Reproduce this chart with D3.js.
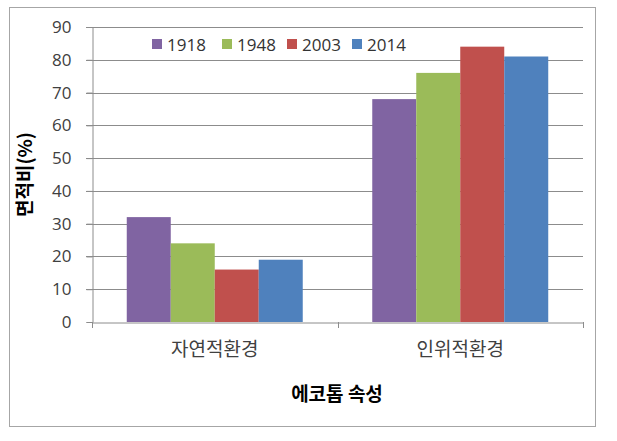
<!DOCTYPE html>
<html><head><meta charset="utf-8">
<script src="https://cdn.jsdelivr.net/npm/d3@7"></script>
<style>body{margin:0;background:#fff}svg text{font-family:"Noto Sans CJK KR","Noto Sans",sans-serif}</style>
</head><body><svg id="c" width="617" height="441"></svg>
<script>
const categories = ["자연적환경", "인위적환경"];
const seriesNames = ["1918", "1948", "2003", "2014"];
const v1918 = [32, 68];
const v1948 = [24, 76];
const v2003 = [16, 84];
const v2014 = [19, 81];
const yTicks = [0, 10, 20, 30, 40, 50, 60, 70, 80, 90];
const colors = ["#8064A2", "#9BBB59", "#C0504D", "#4F81BD"];
const seriesValues = [v1918, v1948, v2003, v2014];

const svg = d3.select("#c");
svg.append("rect").attr("x", 9.5).attr("y", 7.5).attr("width", 586).attr("height", 419)
  .attr("fill", "#fff").attr("stroke", "#a6a6a6");

const L = 92, R = 583, T = 27, B = 322;
const x0 = d3.scaleBand().domain(categories).range([L, R]).paddingInner(0).paddingOuter(0);
const x1 = d3.scaleBand().domain(seriesNames).range([0, x0.bandwidth()]).paddingOuter(0.79).paddingInner(0);
const y = d3.scaleLinear().domain([0, 90]).range([B, T]);

// gridlines
svg.append("g").selectAll("line").data(yTicks.slice(1)).join("line")
  .attr("x1", L - 6).attr("x2", R).attr("y1", d => Math.round(y(d)) + 0.5).attr("y2", d => Math.round(y(d)) + 0.5)
  .attr("stroke", "#8c8c8c").attr("stroke-width", 1);

// bars
const data = [];
categories.forEach((c, i) => seriesNames.forEach((s, j) => data.push({c, s, v: seriesValues[j][i], j})));
svg.append("g").selectAll("rect").data(data).join("rect")
  .attr("x", d => x0(d.c) + x1(d.s)).attr("width", x1.bandwidth())
  .attr("y", d => y(d.v)).attr("height", d => y(0) - y(d.v))
  .attr("fill", d => colors[d.j]);

// axes
const yAxis = d3.axisLeft(y).tickValues(yTicks).tickSize(6).tickPadding(15);
const gy = svg.append("g").attr("transform", `translate(${L + 0.5},0)`).call(yAxis);
gy.select(".domain").attr("stroke", "#8c8c8c");
gy.selectAll(".tick line").attr("stroke", "#8c8c8c");
gy.selectAll(".tick text").attr("font-size", 17).attr("fill", "#404040")
  .style("font-family", "'Open Sans','Noto Sans',sans-serif");

const xAxis = d3.axisBottom(x0).tickSize(0).tickPadding(20);
const gx = svg.append("g").attr("transform", `translate(0,${B + 0.5})`).call(xAxis);
gx.select(".domain").attr("stroke", "#8c8c8c");
gx.selectAll(".tick text").attr("font-size", 19).attr("fill", "#404040");
// category boundary ticks
svg.append("g").selectAll("line").data([L, x0(categories[1]), R]).join("line")
  .attr("x1", d => Math.round(d) + 0.5).attr("x2", d => Math.round(d) + 0.5)
  .attr("y1", B).attr("y2", B + 6).attr("stroke", "#8c8c8c");

// axis titles
svg.append("text").attr("x", 337).attr("y", 401).attr("text-anchor", "middle")
  .attr("font-size", 19).attr("font-weight", "bold").attr("fill", "#000").text("에코톱 속성");
svg.append("text").attr("transform", `translate(32,${(T + B) / 2}) rotate(-90)`).attr("text-anchor", "middle")
  .attr("font-size", 19).attr("font-weight", "bold").attr("fill", "#000").text("면적비(%)");

// legend
const legX = [152, 222, 287, 352];
const leg = svg.append("g").selectAll("g").data(seriesNames).join("g")
  .attr("transform", (d, i) => `translate(${legX[i]},0)`);
leg.append("rect").attr("x", 0).attr("y", 39).attr("width", 10).attr("height", 10).attr("fill", (d, i) => colors[i]);
leg.append("text").attr("x", 15).attr("y", 51).attr("font-size", 17).attr("fill", "#333")
  .style("font-family", "'Open Sans','Noto Sans',sans-serif").text(d => d);
</script></body></html>
